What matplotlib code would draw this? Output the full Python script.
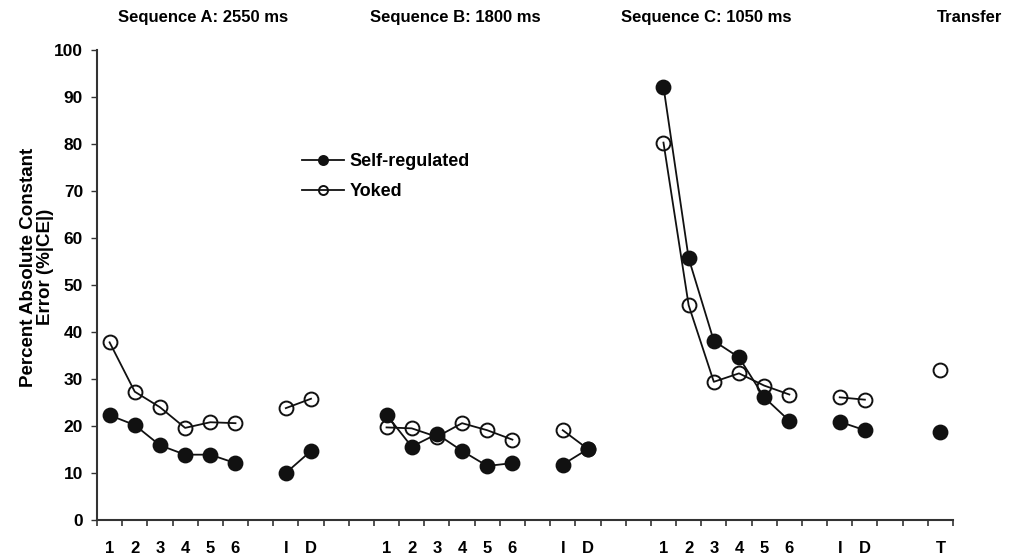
import numpy as np
import matplotlib
matplotlib.use('Agg')
import matplotlib.pyplot as plt

plt.rcParams['font.family'] = ['Liberation Sans', 'DejaVu Sans']
plt.rcParams['font.weight'] = 'bold'

# ── Data ──
slot_labels = ['1', '2', '3', '4', '5', '6', '', 'I', 'D', '', '',
               '1', '2', '3', '4', '5', '6', '', 'I', 'D', '', '',
               '1', '2', '3', '4', '5', '6', '', 'I', 'D', '', '', 'T']

self_A    = [22.3, 20.2, 15.9, 13.9, 13.9, 12.1]
yoked_A   = [37.8, 27.3, 24.0, 19.6, 20.8, 20.6]
self_A_ID = [10.0, 14.7]
yoked_A_ID = [23.8, 25.8]

self_B    = [22.4, 15.6, 18.3, 14.7, 11.5, 12.1]
yoked_B   = [19.7, 19.5, 17.7, 20.6, 19.1, 17.1]
self_B_ID = [11.8, 15.1]
yoked_B_ID = [19.1, 15.1]

self_C    = [92.2, 55.7, 38.1, 34.6, 26.1, 21.1]
yoked_C   = [80.3, 45.7, 29.4, 31.2, 28.6, 26.7]
self_C_ID = [20.9, 19.1]
yoked_C_ID = [26.1, 25.6]

self_T  = [18.8]
yoked_T = [32.0]

seg_starts = [0, 7, 11, 18, 22, 29, 33]
self_segs  = [self_A, self_A_ID, self_B, self_B_ID, self_C, self_C_ID, self_T]
yoked_segs = [yoked_A, yoked_A_ID, yoked_B, yoked_B_ID, yoked_C, yoked_C_ID, yoked_T]

titles = ['Sequence A: 2550 ms', 'Sequence B: 1800 ms', 'Sequence C: 1050 ms', 'Transfer']
title_x = [0.200, 0.448, 0.694, 0.953]

# ── Plot ──
fig = plt.figure(figsize=(10.17, 5.56), dpi=100)
ax = fig.add_axes([97/1017, 36/556, 856/1017, 470/556])

dark = '#111111'
mk = dict(marker='o', markersize=10, markeredgewidth=1.4, linewidth=1.3, color=dark)

for i, (start, vals) in enumerate(zip(seg_starts, yoked_segs)):
    xs = np.arange(start, start + len(vals)) + 0.5
    ax.plot(xs, vals, markerfacecolor='none', markeredgecolor=dark,
            label='Yoked' if i == 0 else None, zorder=2, **mk)
for i, (start, vals) in enumerate(zip(seg_starts, self_segs)):
    xs = np.arange(start, start + len(vals)) + 0.5
    ax.plot(xs, vals, markerfacecolor=dark, markeredgecolor=dark,
            label='Self-regulated' if i == 0 else None, zorder=3, **mk)

n = len(slot_labels)
ax.set_xlim(0, n)
ax.set_ylim(0, 100)
ax.set_xticks(np.arange(0, n + 1))
ax.set_xticklabels([])
ax.set_xticks(np.arange(n) + 0.5, minor=True)
ax.set_xticklabels(slot_labels, minor=True, fontsize=12, fontweight='bold')
ax.tick_params(axis='x', which='minor', length=0, pad=15)
ax.tick_params(axis='x', which='major', length=4.5, width=1.2, color='#333333', direction='out')
ax.set_yticks(np.arange(0, 101, 10))
ax.tick_params(axis='y', length=4.5, width=1.0, color='#333333', labelsize=12.5, pad=5.5)
for lab in ax.get_yticklabels():
    lab.set_fontweight('bold')

for side in ['top', 'right']:
    ax.spines[side].set_visible(False)
for side in ['left', 'bottom']:
    ax.spines[side].set_color('#333333')
    ax.spines[side].set_linewidth(1.5)

ax.set_ylabel('Percent Absolute Constant\nError (%|CE|)', fontsize=13.5, fontweight='bold',
              linespacing=1.0)
ax.yaxis.set_label_coords(-0.050, 0.538)

handles, labels = ax.get_legend_handles_labels()
order = [1, 0]
ax.legend([handles[i] for i in order], [labels[i] for i in order],
          loc='upper left', bbox_to_anchor=(0.24, 0.78), frameon=False,
          markerscale=0.65, handlelength=2.3, handletextpad=0.3,
          labelspacing=0.7, borderpad=0, borderaxespad=0,
          prop={'weight': 'bold', 'size': 13})

for t, x in zip(titles, title_x):
    fig.text(x, 0.969, t, ha='center', va='center', fontsize=12, fontweight='bold')

fig.savefig('out.png', dpi=100)
